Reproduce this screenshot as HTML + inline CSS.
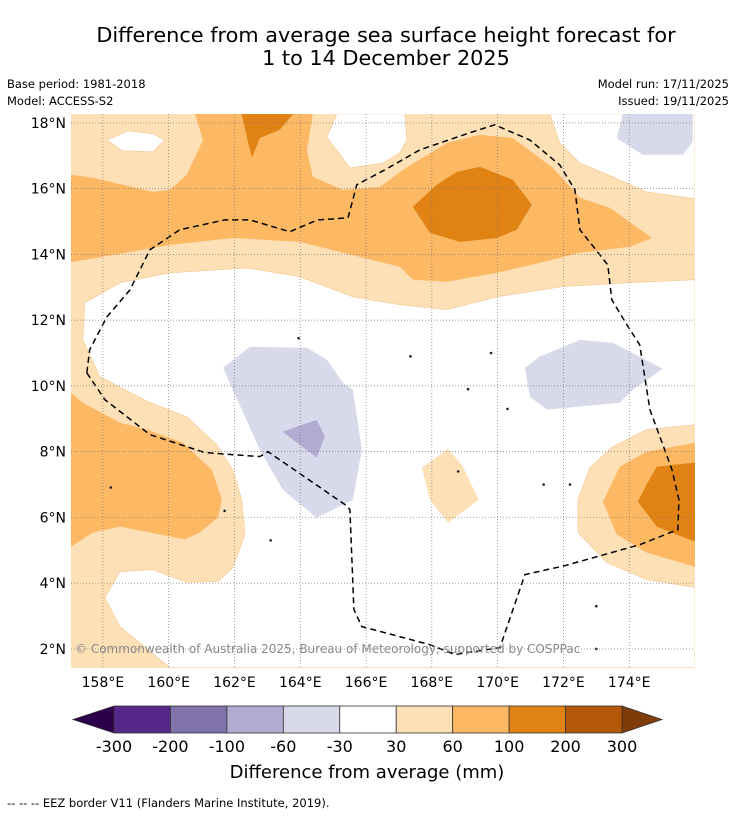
<!DOCTYPE html>
<html><head><meta charset="utf-8"><style>
body{margin:0;background:#fff;font-family:"DejaVu Sans","Liberation Sans",sans-serif}
#wrap{position:relative;width:736px;height:816px;overflow:hidden}
</style></head><body>
<div id="wrap">
<svg id="svg" width="736" height="816" xmlns="http://www.w3.org/2000/svg" font-family="DejaVu Sans, Liberation Sans, sans-serif">
<text x="386" y="42" font-size="20.8" text-anchor="middle">Difference from average sea surface height forecast for</text>
<text x="386" y="65" font-size="20.8" text-anchor="middle">1 to 14 December 2025</text>
<text x="7" y="88" font-size="11.5">Base period: 1981-2018</text>
<text x="7" y="105" font-size="11.5">Model: ACCESS-S2</text>
<text x="729" y="88" font-size="11.5" text-anchor="end">Model run: 17/11/2025</text>
<text x="729" y="105" font-size="11.5" text-anchor="end">Issued: 19/11/2025</text>
<g id="map"></g>
<g id="axes"></g>
<g id="cbar"></g>
<text x="367" y="778" font-size="18" text-anchor="middle">Difference from average (mm)</text>
<text x="7" y="807" font-size="11.5">--  --  -- EEZ border V11 (Flanders Marine Institute, 2019).</text>
</svg>
</div>
<script>
const lonTicks=[158,160,162,164,166,168,170,172,174];
const latTicks=[2,4,6,8,10,12,14,16,18];
const cbLevels=["-300","-200","-100","-60","-30","30","60","100","200","300"];
const cbColors=["#542788","#8073ac","#b2abd2","#d8daeb","#ffffff","#fee0b6","#fdb863","#e08214","#b35806"];
const lowColor="#2d004b", highColor="#7f3b08";
// contour regions [lon,lat]
const whiteCentral=[[157.45,12.53],[158.52,13.14],[160.04,13.44],[162.38,13.59],[163.99,13.32],[165.6,12.71],[167.03,12.47],[168.46,12.32],[169.98,12.71],[171.98,13.02],[174.02,13.14],[176,13.23],[176,8.82],[174.53,8.67],[173.5,8.15],[172.8,7.51],[172.44,6.54],[172.44,5.54],[173.32,4.63],[174.53,4.11],[176,3.87],[176,1.43],[160.04,1.43],[158.52,2.68],[158.06,3.56],[158.52,4.35],[159.52,4.41],[160.55,4.02],[161.5,4.05],[161.95,4.47],[162.32,5.48],[162.22,6.54],[161.95,7.45],[161.47,8.21],[160.55,9.06],[159.43,9.49],[157.91,10.28],[157.39,11.4]];
const whiteTopLeft=[[158.12,17.48],[158.76,17.76],[159.52,17.67],[159.88,17.48],[159.52,17.12],[158.58,17.15]];
const whiteTopMid=[[165.11,18.27],[164.81,17.57],[165.51,16.63],[166.51,16.78],[167.03,17.09],[167.24,17.48],[167.18,18.27]];
const whiteTopRight=[[171.59,18.27],[171.89,17.39],[172.5,16.78],[173.5,16.36],[174.53,15.9],[176,15.69],[176,18.27]];
const lightIsland=[[167.7,7.51],[168.49,8.09],[168.91,7.6],[169.43,6.54],[168.49,5.84],[167.94,6.54]];
const purpleTR=[[173.81,18.27],[175.93,18.27],[175.93,17.42],[175.63,17.03],[174.41,17.03],[173.62,17.54]];
const purpleRM=[[170.83,10.55],[171.28,10.89],[172.5,11.4],[173.5,11.31],[175.02,10.52],[174.11,9.88],[173.71,9.49],[171.5,9.28],[170.98,9.67]];
const purpleC=[[161.65,10.55],[162.47,11.19],[164.2,11.16],[164.81,10.8],[165.29,10.1],[165.6,9.88],[165.87,8.06],[165.6,6.54],[164.5,5.99],[163.47,6.84],[162.77,8.06],[161.95,9.88]];
const purpleDark=[[163.47,8.61],[164.5,8.97],[164.75,8.46],[164.5,7.82],[163.78,8.36]];
const orangeTop=[[157.03,16.42],[157.7,16.33],[159.52,15.9],[160.04,15.96],[160.55,16.42],[161.04,17.48],[160.8,18.27],[164.38,18.27],[164.2,17.18],[164.38,16.36],[165.29,15.96],[166.42,16.05],[167.12,16.57],[168.46,17.39],[169.46,17.64],[170.46,17.54],[171.68,16.63],[172.5,15.72],[173.41,15.42],[174.69,14.5],[174.02,14.23],[172.5,14.05],[171.28,13.74],[169.98,13.44],[168.46,13.17],[167.42,13.23],[167.03,13.62],[163.99,14.38],[161.95,14.5],[160.04,14.29],[158,13.93],[157.03,13.77]];
const darkTopSmall=[[162.22,18.27],[163.78,18.27],[163.38,17.79],[162.77,17.54],[162.53,16.94],[162.41,17.42]];
const darkTopRight=[[167.42,15.45],[168.15,16.12],[168.76,16.51],[169.46,16.66],[170.46,16.27],[171.04,15.51],[170.58,14.75],[169.98,14.5],[168.85,14.38],[167.94,14.66]];
const orangeLL=[[157.03,9.79],[157.39,9.49],[158.52,8.88],[159.34,8.67],[160.43,8.27],[161.31,7.45],[161.62,6.54],[161.5,6.0],[160.95,5.54],[160.49,5.33],[158.52,5.72],[157.7,5.54],[157.03,5.11]];
const orangeR=[[176,8.27],[174.53,8.0],[173.71,7.54],[173.2,6.48],[173.62,5.48],[174.53,4.93],[176,4.5]];
const darkR=[[176,7.67],[174.84,7.54],[174.53,7.0],[174.26,6.48],[174.84,5.72],[176,5.26]];
const eez=[[157.51,10.4],[158.06,9.58],[159.43,8.52],[161.1,7.97],[162.77,7.85],[163.02,8.0],[165.36,6.39],[165.51,6.24],[165.63,3.2],[165.87,2.68],[167.94,2.13],[168.7,1.83],[170.07,2.04],[170.83,4.26],[172.04,4.53],[174.32,5.17],[175.48,5.63],[175.51,6.54],[175.3,7.45],[174.63,9.28],[174.32,11.25],[173.93,11.86],[173.47,12.62],[173.35,13.68],[172.5,14.75],[172.35,15.96],[171.89,16.72],[170.98,17.48],[169.91,17.94],[169.16,17.7],[167.64,17.18],[166.57,16.57],[165.72,16.12],[165.45,15.11],[164.53,15.05],[163.68,14.69],[162.47,15.05],[161.71,15.05],[160.34,14.75],[159.43,14.14],[158.82,12.92],[158.12,12.1],[157.6,11.1],[157.51,10.4]];
const islands=[[158.24,6.91],[163.95,11.45],[167.35,10.9],[169.8,11.0],[169.1,9.9],[170.3,9.3],[168.8,7.4],[171.4,7.0],[172.2,7.0],[173.0,3.3],[173.0,2.0],[163.1,5.3],[161.7,6.2]];
const NS="http://www.w3.org/2000/svg";
const X0=71,X1=695,Y0=114,Y1=668;
const LON0=157.03,LON1=176.0,LAT0=1.42,LAT1=18.27;
function xs(lon){return X0+(lon-LON0)/(LON1-LON0)*(X1-X0);}
function ys(lat){return Y1-(lat-LAT0)/(LAT1-LAT0)*(Y1-Y0);}
function el(t,a,p){const e=document.createElementNS(NS,t);for(const k in a)e.setAttribute(k,a[k]);p.appendChild(e);return e;}
const map=document.getElementById('map');
const clip=el('clipPath',{id:'mc'},map);el('rect',{x:X0,y:Y0,width:X1-X0,height:Y1-Y0},clip);
const g=el('g',{'clip-path':'url(#mc)'},map);
function poly(pts,fill,name){const p=el('polygon',{points:pts.map(q=>xs(q[0]).toFixed(1)+','+ys(q[1]).toFixed(1)).join(' '),fill:fill,stroke:fill==='#ffffff'?'#f3c68f':'none','stroke-width':fill==='#ffffff'?0.6:0},g);

return p;}
const bg=el('rect',{x:X0,y:Y0,width:X1-X0,height:Y1-Y0,fill:'#fee0b6'},g);


poly(whiteCentral,'#ffffff','white-region-central');
poly(whiteTopLeft,'#ffffff','white-region-top-left');
poly(whiteTopMid,'#ffffff','white-region-top-mid');
poly(whiteTopRight,'#ffffff','white-region-top-right');
poly(lightIsland,'#fee0b6','contour-30-60-patch');
poly(purpleTR,'#d8daeb','contour-neg-top-right');
poly(purpleRM,'#d8daeb','contour-neg-right');
poly(purpleC,'#d8daeb','contour-neg-central');
poly(purpleDark,'#b2abd2','contour-neg-100-central');
poly(orangeTop,'#fdb863','contour-60-100-top');
poly(darkTopSmall,'#e08214','contour-100-200-top-small');
poly(darkTopRight,'#e08214','contour-100-200-top-right');
poly(orangeLL,'#fdb863','contour-60-100-lower-left');
poly(orangeR,'#fdb863','contour-60-100-right');
poly(darkR,'#e08214','contour-100-200-right');
islands.forEach(q=>{const c=el('circle',{cx:xs(q[0]),cy:ys(q[1]),r:1.3,fill:'#222'},g);

});
const e=el('polyline',{points:eez.map(q=>xs(q[0]).toFixed(1)+','+ys(q[1]).toFixed(1)).join(' '),fill:'none',stroke:'#000','stroke-width':1.5,'stroke-dasharray':'6,4'},g);


const ax=document.getElementById('axes');
lonTicks.forEach(l=>{const x=xs(l);
const ln=el('line',{x1:x,x2:x,y1:Y0,y2:Y1,stroke:'#777','stroke-width':0.7,'stroke-dasharray':'1,2'},ax);


const t=el('text',{x:x,y:687,'font-size':14,'text-anchor':'middle'},ax);t.textContent=l+'°E';

});
latTicks.forEach(l=>{const y=ys(l);
const ln=el('line',{x1:X0,x2:X1,y1:y,y2:y,stroke:'#777','stroke-width':0.7,'stroke-dasharray':'1,2'},ax);


const t=el('text',{x:66,y:y+5,'font-size':14,'text-anchor':'end'},ax);t.textContent=l+'°N';

});
const cr=el('text',{x:75,y:653,'font-size':12,fill:'#888'},ax);cr.textContent='© Commonwealth of Australia 2025, Bureau of Meteorology, supported by COSPPac';


const cb=document.getElementById('cbar');
const CB0=114,CB1=622,CT=706,CH=27,n=cbColors.length,w=(CB1-CB0)/n;
const lt=el('polygon',{points:`${CB0},${CT} ${CB0},${CT+CH} 73,${CT+CH/2}`,fill:lowColor,stroke:'#333','stroke-width':0.8},cb);


const rt=el('polygon',{points:`${CB1},${CT} ${CB1},${CT+CH} 662,${CT+CH/2}`,fill:highColor,stroke:'#333','stroke-width':0.8},cb);


cbColors.forEach((c,i)=>{const r=el('rect',{x:CB0+i*w,y:CT,width:w,height:CH,fill:c,stroke:'#333','stroke-width':0.8},cb);

});
cbLevels.forEach((s,i)=>{const t=el('text',{x:CB0+i*w,y:752,'font-size':16,'text-anchor':'middle'},cb);t.textContent=s;

});
</script>
</body></html>
